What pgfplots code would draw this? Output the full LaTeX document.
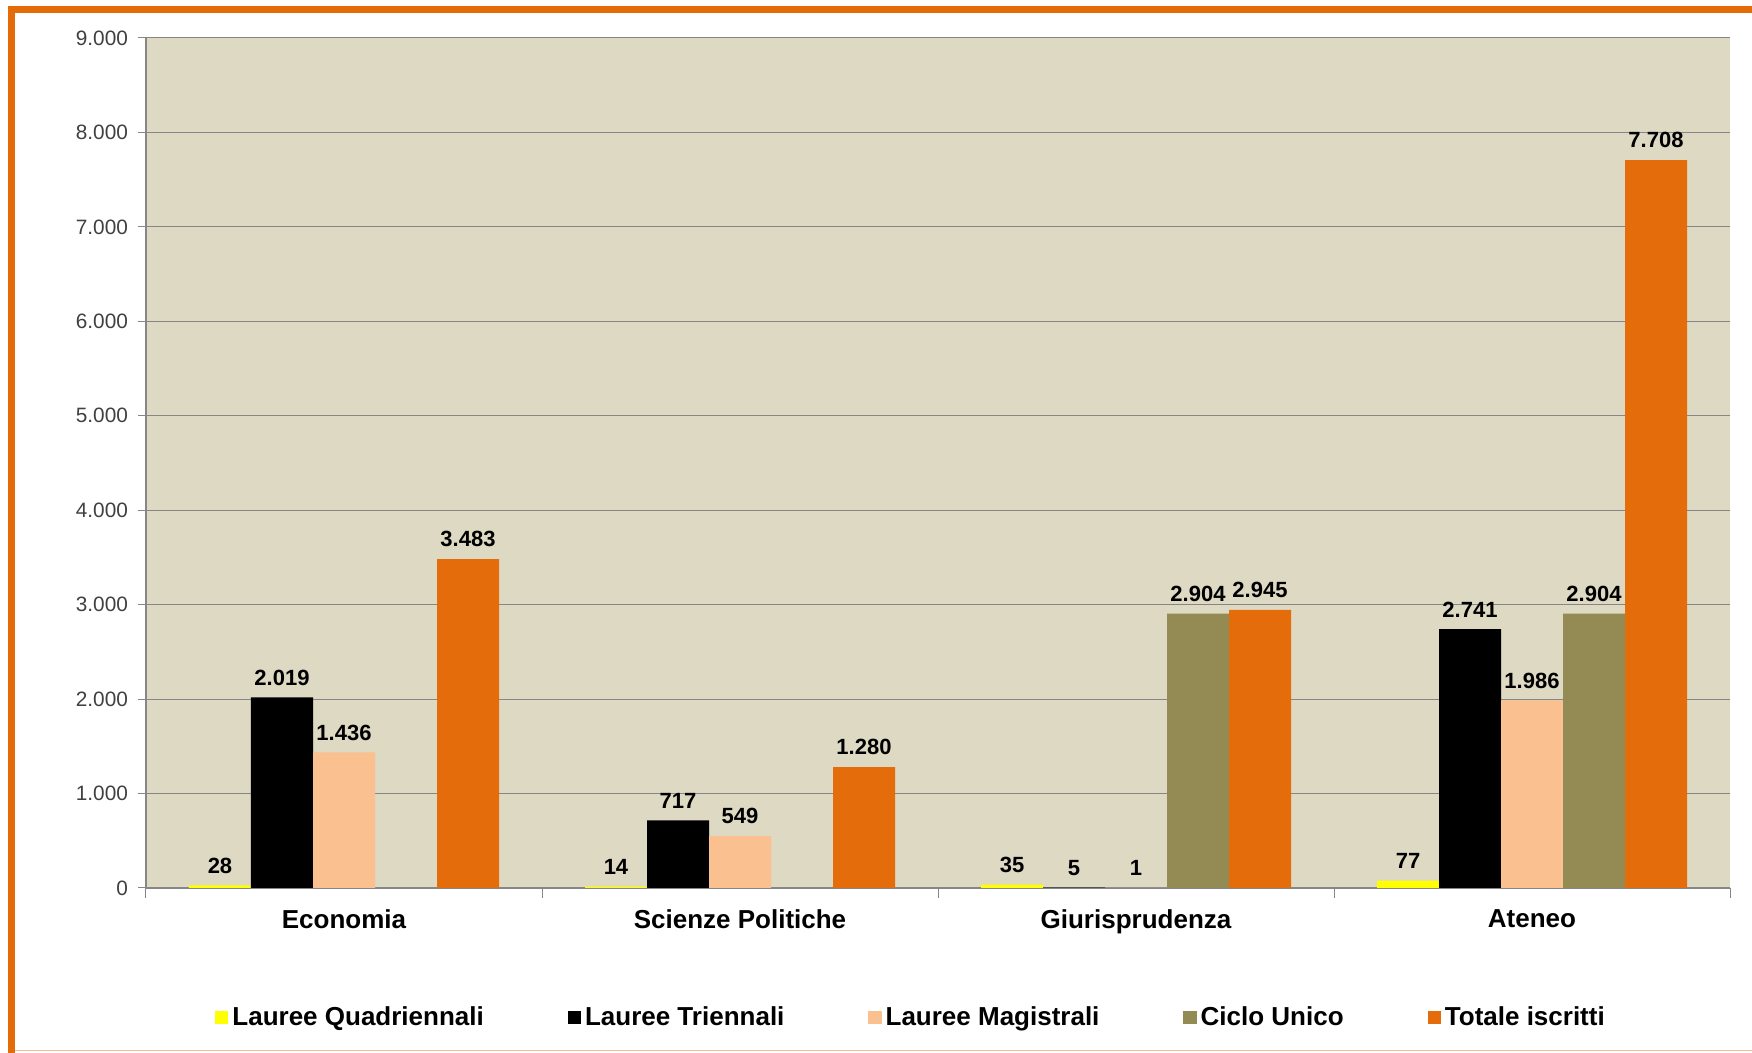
\documentclass[border=0pt]{standalone}
\usepackage{pgfplots}
\pgfplotsset{compat=1.18}
\usepackage{fontspec}
\setmainfont{Liberation Sans}

\definecolor{bgtan}{HTML}{DDD9C3}
\definecolor{cquad}{HTML}{FFFF00}
\definecolor{ctri}{HTML}{000000}
\definecolor{cmag}{HTML}{FAC090}
\definecolor{cciclo}{HTML}{948A54}
\definecolor{ctot}{HTML}{E46C0A}
\definecolor{frameorange}{HTML}{E36C09}
\definecolor{gridgray}{HTML}{868686}

\begin{document}
\begin{tikzpicture}
\useasboundingbox (0,0) rectangle (876pt,526.5pt);
\fill[white] (0,0) rectangle (876pt,526.5pt);
% frame
\draw[frameorange!45, line width=0.8pt] (6pt,1.2pt) -- (876pt,1.2pt);
\draw[frameorange, line width=3.5pt] (5.75pt,0pt) -- (5.75pt,521.5pt) -- (876pt,521.5pt);

\begin{axis}[
  at={(73pt,82.5pt)}, anchor=south west,
  scale only axis, width=792pt, height=425pt,
  ybar=0pt, bar width=31pt,
  axis background/.style={fill=bgtan},
  xmin=-0.5, xmax=3.5, ymin=0, ymax=9000,
  xtick={0,1,2,3},
  xticklabels={Economia,Scienze Politiche,Giurisprudenza,Ateneo},
  xtick style={draw=none},
  xticklabel style={font=\bfseries\fontsize{13}{15}\selectfont, yshift=-3.5pt},
  extra x ticks={-0.5,0.5,1.5,2.5,3.5},
  extra x tick labels={},
  extra x tick style={xtick style={draw=gridgray, line width=0.5pt}, major tick length=5pt, tick align=outside, grid=none},
  ytick distance=1000,
  scaled y ticks=false,
  ymajorgrids,
  grid style={draw=gridgray, line width=0.5pt},
  axis x line*=bottom, axis y line*=left,
  axis line style={draw=gridgray, line width=0.6pt},
  ytick style={draw=gridgray, line width=0.5pt},
  tick align=outside, major tick length=4pt,
  yticklabel style={font=\fontsize{10.4}{12}\selectfont, text=black!75, xshift=-1.5pt},
  /pgf/number format/.cd, 1000 sep={.}, assume math mode=true, /pgfplots/.cd,
  nodes near coords,
  every node near coord/.append style={font=\bfseries\fontsize{11}{13}\selectfont, text=black, yshift=2.5pt},
  legend style={at={(0.4836,-0.152)}, anchor=center, draw=none, fill=none,
    legend columns=-1, font=\bfseries\fontsize{13}{15}\selectfont,
    /tikz/every even column/.append style={column sep=40pt}},
  legend image code/.code={\fill[#1] (0pt,-3.3pt) rectangle (6.6pt,3.3pt);},
]
\addplot[fill=cquad, draw=none] coordinates {(0,28) (1,14) (2,35) (3,77)};
\addplot[fill=ctri, draw=none] coordinates {(0,2019) (1,717) (2,5) (3,2741)};
\addplot[fill=cmag, draw=none] coordinates {(0,1436) (1,549) (2,1) (3,1986)};
\addplot[fill=cciclo, draw=none] coordinates {(2,2904) (3,2904)};
\addplot[fill=ctot, draw=none] coordinates {(0,3483) (1,1280) (2,2945) (3,7708)};
\legend{Lauree Quadriennali, Lauree Triennali, Lauree Magistrali, Ciclo Unico, Totale iscritti}
\end{axis}
\end{tikzpicture}
\end{document}
